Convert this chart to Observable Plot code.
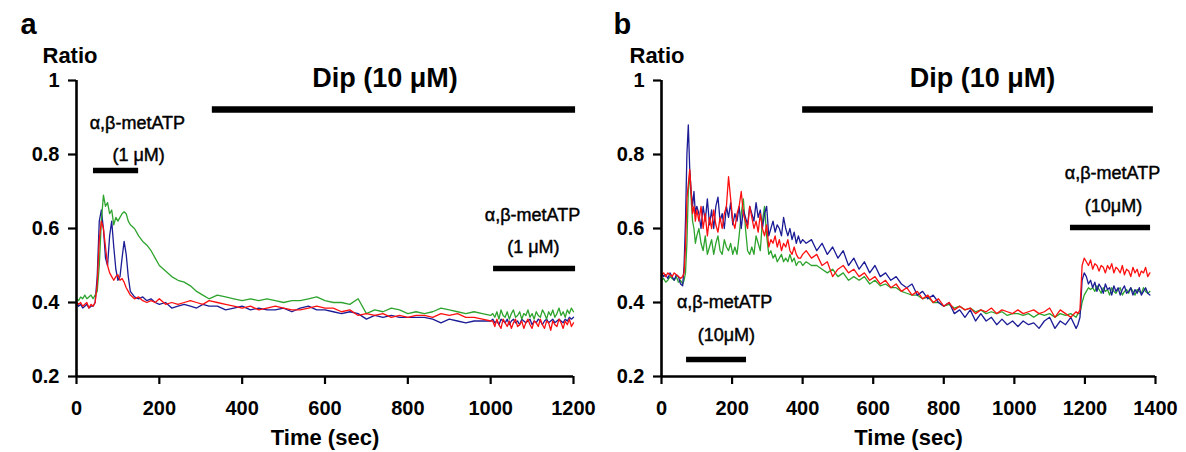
<!DOCTYPE html>
<html>
<head>
<meta charset="utf-8">
<script src="https://cdn.jsdelivr.net/npm/d3@7"></script>
<script src="https://cdn.jsdelivr.net/npm/@observablehq/plot@0.6"></script>
<style>
  html, body { margin: 0; padding: 0; background: #fff; }
  #wrap { display: flex; flex-direction: row; width: 1186px; height: 452px; }
  #wrap svg { display: block; overflow: visible; }
</style>
</head>
<body>
<div id="wrap"><div id="pa"></div><div id="pb"></div></div>
<script>
// ---------------- DATA ----------------
const yTicks = [0.2, 0.4, 0.6, 0.8, 1];
const xTicksA = [0, 200, 400, 600, 800, 1000, 1200];
const xTicksB = [0, 200, 400, 600, 800, 1000, 1200, 1400];
const panelLabels = ["a", "b"];
const yTitle = "Ratio";
const xTitle = "Time (sec)";
const dipLabel = "Dip (10 μM)";
const drugLabel = "α,β-metATP";
const concA = "(1 μM)";
const concB = "(10μM)";

// Panel a (time in s)
const timeA = [0,5,10,15,20,25,30,35,40,45,50,55,60,65,70,75,80,85,90,95,100,105,110,115,120,125,130,
  140,150,160,170,180,190,200,
  215,230,245,260,275,290,305,320,
  340,360,380,400,420,440,460,480,500,520,540,560,580,600,620,640,660,680,700,720,740,760,780,800,820,840,860,880,900,920,940,960,980,1000,
  1005,1010,1015,1020,1025,1030,1035,1040,1045,1050,1055,1060,1065,1070,1075,1080,1085,1090,1095,1100,
  1105,1110,1115,1120,1125,1130,1135,1140,1145,1150,1155,1160,1165,1170,1175,1180,1185,1190,1195,1200];
const blueA = [.395,.39,.395,.385,.39,.395,.385,.39,.39,.40,.47,.62,.65,.60,.52,.50,.58,.62,.55,.49,.46,.47,.52,.565,.53,.47,.43,
  .415,.41,.415,.405,.41,.40,.395,
  .40,.385,.39,.395,.39,.385,.395,.39,
  .39,.38,.385,.39,.38,.385,.38,.38,.385,.375,.385,.39,.38,.38,.375,.37,.375,.37,.355,.365,.36,.365,.36,.36,.36,.36,.355,.345,.355,.35,.345,.35,.35,.35,
  .355,.345,.35,.34,.355,.35,.345,.355,.34,.35,.355,.345,.35,.34,.355,.35,.345,.35,.355,.34,
  .35,.345,.355,.35,.34,.35,.355,.345,.35,.355,.345,.35,.355,.35,.345,.355,.35,.36,.355,.36];
const redA = [.40,.395,.40,.39,.395,.40,.385,.395,.39,.40,.45,.57,.62,.60,.55,.50,.48,.47,.46,.47,.475,.46,.465,.455,.44,.43,.42,
  .41,.415,.405,.40,.405,.40,.41,
  .395,.40,.395,.40,.405,.40,.395,.405,
  .40,.395,.39,.385,.39,.38,.385,.39,.385,.38,.38,.385,.39,.385,.385,.375,.38,.365,.37,.365,.37,.36,.365,.36,.365,.365,.36,.37,.365,.37,.36,.36,.355,.35,
  .35,.335,.355,.34,.33,.355,.345,.335,.35,.33,.345,.355,.335,.34,.35,.33,.345,.355,.34,.33,
  .35,.345,.335,.355,.34,.33,.35,.345,.325,.35,.34,.335,.355,.345,.33,.35,.34,.355,.335,.345];
const greenA = [.41,.405,.415,.41,.42,.41,.415,.42,.41,.42,.43,.50,.62,.69,.66,.67,.64,.65,.61,.63,.62,.63,.64,.645,.64,.62,.61,
  .60,.58,.565,.555,.54,.52,.50,
  .485,.47,.46,.455,.445,.43,.42,.41,
  .42,.415,.41,.405,.41,.405,.41,.405,.40,.405,.405,.41,.415,.405,.40,.40,.395,.41,.37,.38,.375,.385,.38,.37,.375,.37,.375,.385,.38,.375,.37,.375,.37,.365,
  .37,.36,.375,.355,.38,.365,.36,.375,.355,.37,.38,.36,.365,.375,.355,.37,.365,.38,.36,.37,
  .355,.375,.365,.36,.38,.37,.355,.375,.365,.38,.36,.37,.385,.365,.375,.36,.38,.37,.385,.375];

// Panel b (time in s)
const timeB = [0,6,12,18,24,30,36,42,48,54,60,
  64,68,72,76,80,84,88,92,96,100,
  106,112,118,124,130,136,142,148,154,160,166,172,178,184,190,196,202,208,214,220,226,232,238,244,250,
  256,262,268,274,280,286,292,298,304,310,316,322,328,334,340,346,352,358,364,370,376,382,388,394,400,
  410,425,440,455,470,485,500,515,530,545,560,575,590,605,620,635,650,665,680,695,710,725,740,755,770,785,
  800,815,830,845,860,875,890,905,920,935,950,965,980,995,1010,1025,1040,1055,1070,1085,1100,1115,1130,1145,1160,1175,
  1180,1186,1192,1198,
  1204,1210,1216,1222,1228,1234,1240,1246,1252,1258,1264,1270,1276,1282,1288,1294,1300,1306,1312,1318,1324,1330,1336,1342,1348,1354,1360,1366,1372,1378,1384];
const blueB = [.48,.47,.475,.465,.48,.47,.46,.475,.47,.45,.445,
  .50,.62,.80,.88,.76,.70,.66,.70,.64,.66,
  .64,.60,.66,.62,.68,.61,.65,.60,.66,.685,.62,.64,.60,.66,.63,.67,.61,.64,.62,.66,.60,.65,.63,.61,.66,
  .64,.62,.67,.63,.65,.60,.64,.66,.58,.60,.62,.59,.61,.60,.58,.63,.60,.58,.60,.57,.59,.56,.58,.56,.57,
  .56,.57,.54,.56,.53,.55,.52,.54,.50,.52,.49,.51,.48,.50,.47,.48,.46,.47,.45,.44,.45,.42,.43,.41,.42,.40,
  .39,.40,.37,.38,.36,.38,.35,.37,.35,.36,.34,.355,.34,.35,.335,.35,.34,.345,.33,.35,.36,.33,.35,.34,.36,.33,
  .34,.36,.46,.48,
  .47,.45,.46,.44,.455,.43,.45,.44,.425,.45,.435,.44,.42,.445,.43,.44,.42,.435,.445,.425,.43,.44,.42,.435,.425,.44,.42,.43,.44,.425,.42];
const redB = [.475,.48,.47,.48,.475,.47,.48,.475,.47,.465,.47,
  .48,.55,.68,.72,.76,.70,.64,.66,.62,.65,
  .62,.66,.60,.64,.58,.63,.60,.65,.61,.59,.63,.60,.64,.66,.74,.68,.62,.60,.64,.66,.70,.64,.62,.60,.66,
  .63,.60,.62,.59,.64,.60,.58,.61,.55,.57,.56,.58,.55,.57,.54,.56,.55,.57,.54,.53,.55,.53,.52,.52,.53,
  .54,.52,.53,.50,.51,.47,.49,.50,.48,.49,.47,.48,.46,.47,.45,.46,.44,.45,.43,.44,.42,.43,.41,.42,.40,.41,
  .39,.40,.38,.39,.38,.385,.37,.38,.375,.385,.37,.38,.375,.37,.38,.37,.375,.38,.37,.375,.385,.36,.38,.37,.36,.375,
  .37,.38,.50,.52,
  .51,.50,.515,.49,.505,.50,.485,.50,.495,.48,.50,.49,.505,.48,.495,.49,.48,.50,.475,.49,.485,.47,.495,.48,.49,.47,.485,.48,.495,.47,.48];
const greenB = [.46,.465,.455,.46,.47,.465,.46,.47,.455,.46,.45,
  .46,.48,.56,.70,.75,.68,.62,.60,.56,.58,
  .60,.56,.54,.58,.53,.55,.57,.53,.56,.58,.54,.53,.57,.55,.54,.56,.53,.55,.53,.58,.64,.68,.60,.54,.53,
  .55,.53,.58,.56,.54,.62,.66,.58,.53,.54,.52,.53,.51,.52,.53,.51,.52,.51,.53,.51,.52,.50,.51,.51,.50,
  .51,.50,.50,.49,.48,.49,.47,.48,.46,.47,.46,.47,.45,.46,.445,.45,.44,.44,.43,.425,.42,.42,.41,.415,.40,.40,
  .39,.395,.385,.39,.38,.385,.375,.38,.37,.375,.37,.375,.365,.37,.37,.365,.37,.36,.37,.365,.37,.36,.37,.365,.37,.36,
  .37,.37,.40,.42,
  .43,.44,.435,.44,.43,.445,.435,.425,.44,.43,.435,.42,.44,.43,.425,.435,.44,.42,.43,.435,.425,.44,.43,.42,.435,.43,.425,.44,.43,.425,.43];

// ---------------- DRAWING ----------------
const COLORS = {blue: "#1c1c96", red: "#ff1010", green: "#2ea42e"};
const FONT = "'Liberation Sans', Arial, Helvetica, sans-serif";

function rows(t, v) {
  const n = Math.min(t.length, v.length);
  const out = [];
  for (let i = 0; i < n; i++) out.push({t: t[i], v: v[i]});
  return out;
}

function panel(cfg) {
  const series = cfg.order.map(k => ({key: k, data: rows(cfg.time, cfg.values[k])}));
  const lblStyle = {fontFamily: FONT, fill: "black"};
  const marks = [
    Plot.axisY({ticks: yTicks, tickFormat: d3.format("~g"), tickSize: 8, tickPadding: 9,
      fontSize: 20, fontWeight: "bold", strokeWidth: 2.2, label: null}),
    Plot.axisX({ticks: cfg.xTicks, tickFormat: d => String(d), tickSize: 8, tickPadding: 16,
      fontSize: 20, fontWeight: "bold", strokeWidth: 2.2, label: null}),
    ...series.map(s => Plot.line(s.data, {x: "t", y: "v", stroke: COLORS[s.key], strokeWidth: 1.3})),
    Plot.ruleX([0], {strokeWidth: 2.6}),
    Plot.ruleY([0.2], {strokeWidth: 2.6}),
    // treatment bars
    Plot.ruleY(cfg.bars, {y: "y", x1: "x1", x2: "x2", strokeWidth: "w", stroke: "black"}),
    // dip label
    Plot.text([dipLabel], {x: cfg.dipX, y: 1.005, text: d => d, fontSize: 27, fontWeight: "bold",
      lineAnchor: "middle", ...lblStyle}),
    // drug labels
    Plot.text(cfg.labels, {x: "x", y: "y", text: "text", fontSize: 18, lineAnchor: "middle",
      ...lblStyle, stroke: "black", strokeWidth: 0.45, style: "letter-spacing:1.3px"}),
    // panel letter
    Plot.text([cfg.letter], {frameAnchor: "top-left", dx: cfg.letterDx, dy: -47, text: d => d,
      fontSize: 29, fontWeight: "bold", lineAnchor: "bottom", ...lblStyle}),
    Plot.text([yTitle], {frameAnchor: "top-left", dx: cfg.ratioDx, dy: -18, text: d => d,
      fontSize: 22, fontWeight: "bold", lineAnchor: "bottom", ...lblStyle}),
    Plot.text([xTitle], {frameAnchor: "bottom", dy: 61, text: d => d,
      fontSize: 22, fontWeight: "bold", lineAnchor: "middle", ...lblStyle})
  ];
  return Plot.plot({
    width: 593, height: 452,
    marginLeft: cfg.marginLeft, marginRight: cfg.marginRight, marginTop: 80, marginBottom: 76,
    x: {domain: cfg.xDomain},
    y: {domain: [0.2, 1]},
    style: {fontFamily: FONT, color: "black", background: "transparent", overflow: "visible"},
    marks
  });
}

const pa = panel({
  time: timeA, values: {blue: blueA, red: redA, green: greenA}, order: ["blue", "green", "red"],
  xTicks: xTicksA, xDomain: [0, 1200], marginLeft: 76, marginRight: 20,
  letter: panelLabels[0], letterDx: -56, ratioDx: -34, dipX: 745,
  bars: [
    {x1: 328, x2: 1205, y: 0.9216, w: 6.5},
    {x1: 41, x2: 150, y: 0.757, w: 5.5},
    {x1: 1007, x2: 1205, y: 0.492, w: 5.5}
  ],
  labels: [
    {x: 147, y: 0.884, text: drugLabel},
    {x: 150, y: 0.797, text: concA},
    {x: 1101, y: 0.635, text: drugLabel},
    {x: 1103, y: 0.549, text: concA}
  ]
});

const pb = panel({
  time: timeB, values: {blue: blueB, red: redB, green: greenB}, order: ["green", "blue", "red"],
  xTicks: xTicksB, xDomain: [0, 1400], marginLeft: 68, marginRight: 31,
  letter: panelLabels[1], letterDx: -48, ratioDx: -32, dipX: 910,
  bars: [
    {x1: 400, x2: 1394, y: 0.9216, w: 6.5},
    {x1: 71, x2: 241, y: 0.246, w: 5.5},
    {x1: 1159, x2: 1386, y: 0.603, w: 5.5}
  ],
  labels: [
    {x: 179, y: 0.40, text: drugLabel},
    {x: 184, y: 0.311, text: concB},
    {x: 1278, y: 0.749, text: drugLabel},
    {x: 1281, y: 0.659, text: concB}
  ]
});

document.getElementById("pa").appendChild(pa);
document.getElementById("pb").appendChild(pb);
</script>
</body>
</html>
